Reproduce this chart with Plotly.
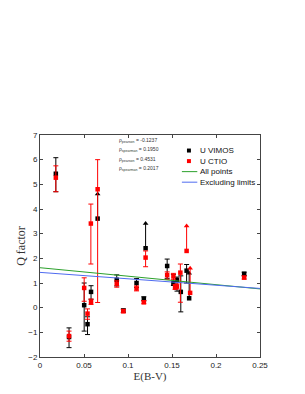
import plotly.graph_objects as go

# U VIMOS (black) measured points
vimos_x = [0.018, 0.033, 0.0502, 0.054, 0.058, 0.0872, 0.0947, 0.1097, 0.118, 0.1445, 0.1516, 0.1557, 0.160, 0.1666, 0.232]
vimos_y = [5.43, -1.19, 0.10, -0.67, 0.64, 1.13, -0.12, 1.00, 0.36, 1.69, 1.00, 1.12, 0.64, 1.50, 1.37]
vimos_ep = [0.65, 0.37, 0.90, 0.30, 0.25, 0.20, 0.07, 0.18, 0.08, 0.28, 0.35, 0.12, 0.65, 0.25, 0.07]
vimos_em = [0.73, 0.43, 1.05, 0.42, 0.30, 0.25, 0.07, 0.18, 0.08, 0.50, 0.10, 0.45, 0.81, 0.50, 0.07]
# U VIMOS limits (value -> arrow end)
vimos_lim_x = [0.0655, 0.120, 0.1695]
vimos_lim_y = [3.61, 2.41, 0.38]
vimos_lim_to = [4.61, 3.41, 1.40]

# U CTIO (red) measured points
ctio_x = [0.018, 0.033, 0.0502, 0.054, 0.058, 0.0578, 0.0655, 0.0872, 0.0947, 0.1097, 0.118, 0.120, 0.1445, 0.1516, 0.1535, 0.1555, 0.1595, 0.232]
ctio_y = [5.27, -1.15, 0.80, -0.24, 0.24, 3.41, 4.80, 0.97, -0.14, 0.78, 0.22, 2.03, 1.32, 1.27, 0.84, 0.86, 1.42, 1.22]
ctio_ep = [0.48, 0.20, 0.41, 0.19, 0.11, 0.79, 1.20, 0.12, 0.07, 0.10, 0.06, 0.27, 0.13, 0.12, 0.10, 0.10, 0.35, 0.06]
ctio_em = [0.57, 0.21, 0.54, 0.23, 0.11, 1.64, 4.59, 0.14, 0.07, 0.10, 0.06, 0.37, 0.17, 0.12, 0.10, 0.10, 1.20, 0.06]
ctio_lim_x = [0.1666, 0.1706]
ctio_lim_y = [2.30, 0.60]
ctio_lim_to = [3.31, 1.60]

# Fit lines
fit_x = [0.0, 0.25]
fit_all_y = [1.62, 0.76]
fit_excl_y = [1.43, 0.78]

rho_labels = ["ρ<sub>pearson</sub> = -0.1237", "ρ<sub>spearman</sub> = 0.1950",
              "ρ<sub>pearson</sub> = 0.4531", "ρ<sub>spearman</sub> = 0.2017"]

legend_names = ["U VIMOS", "U CTIO", "All points", "Excluding limits"]
legend_colors = ["black", "red", "#2ca02c", "#4f6bf0"]
legend_kinds = ["marker", "marker", "line", "line"]

fig = go.Figure()

def add_series(name, color, x, y, ep, em, lx, ly, lto):
    fig.add_trace(go.Scatter(
        x=lx, y=ly, mode="markers", showlegend=False, name=name + " limits",
        marker=dict(symbol="square", size=4.5, color=color),
        error_y=dict(type="data", symmetric=False,
                     array=[t - v for t, v in zip(lto, ly)],
                     arrayminus=[0] * len(ly), color=color, thickness=1, width=0)))
    fig.add_trace(go.Scatter(
        x=lx, y=lto, mode="markers", showlegend=False, name=name + " limits",
        marker=dict(symbol="triangle-up", size=5, color=color)))
    fig.add_trace(go.Scatter(
        x=x, y=y, mode="markers", name=name, showlegend=False,
        marker=dict(symbol="square", size=4.5, color=color),
        error_y=dict(type="data", symmetric=False, array=ep, arrayminus=em,
                     color=color, thickness=1, width=2.5)))

add_series("U VIMOS", "black", vimos_x, vimos_y, vimos_ep, vimos_em,
           vimos_lim_x, vimos_lim_y, vimos_lim_to)
add_series("U CTIO", "red", ctio_x, ctio_y, ctio_ep, ctio_em,
           ctio_lim_x, ctio_lim_y, ctio_lim_to)

fig.add_trace(go.Scatter(x=fit_x, y=fit_all_y, mode="lines", name="All points",
                         showlegend=False, line=dict(color="#2ca02c", width=1)))
fig.add_trace(go.Scatter(x=fit_x, y=fit_excl_y, mode="lines", name="Excluding limits",
                         showlegend=False, line=dict(color="#4f6bf0", width=1)))

# correlation coefficients
for i, t in enumerate(rho_labels):
    fig.add_annotation(x=0.351, y=6.78 - i * 0.38, xref="paper", yref="y",
                       text=t, showarrow=False, xanchor="left", yanchor="middle",
                       font=dict(size=5, color="#333", family="Liberation Sans"))

# compact legend (drawn in paper coordinates)
leg_top = 0.930
leg_step = 0.0475
for i, (nm, col, kind) in enumerate(zip(legend_names, legend_colors, legend_kinds)):
    yy = leg_top - i * leg_step
    if kind == "marker":
        fig.add_shape(type="rect", xref="paper", yref="paper",
                      x0=0.677 - 0.009, x1=0.677 + 0.009, y0=yy - 0.009, y1=yy + 0.009,
                      fillcolor=col, line=dict(width=0))
    else:
        fig.add_shape(type="line", xref="paper", yref="paper",
                      x0=0.645, x1=0.715, y0=yy, y1=yy, line=dict(color=col, width=1))
    fig.add_annotation(x=0.717, y=yy, xref="paper", yref="paper", text=nm,
                       showarrow=False, xanchor="left", yanchor="middle",
                       font=dict(size=8, family="Liberation Sans", color="#111"))

axis_common = dict(showline=True, linecolor="#444", linewidth=1, mirror="ticks",
                   ticks="inside", ticklen=3, tickcolor="#444", showgrid=False,
                   zeroline=False, tickfont=dict(size=8, family="Liberation Sans", color="#222"))

fig.update_xaxes(range=[0, 0.25], tickvals=[0, 0.05, 0.1, 0.15, 0.2, 0.25],
                 ticktext=["0", "0.05", "0.1", "0.15", "0.2", "0.25"],
                 title=dict(text="E(B-V)", font=dict(size=11, family="Liberation Serif", color="#333"),
                            standoff=0),
                 **axis_common)
fig.update_yaxes(range=[-2, 7], dtick=1,
                 title=dict(text="Q factor", font=dict(size=12, family="Liberation Serif", color="#333"),
                            standoff=0),
                 **axis_common)

fig.update_layout(
    width=305, height=394,
    margin=dict(l=29, r=53, t=127, b=45),
    paper_bgcolor="white", plot_bgcolor="white",
    showlegend=False,
)

fig.write_html("out.html")
